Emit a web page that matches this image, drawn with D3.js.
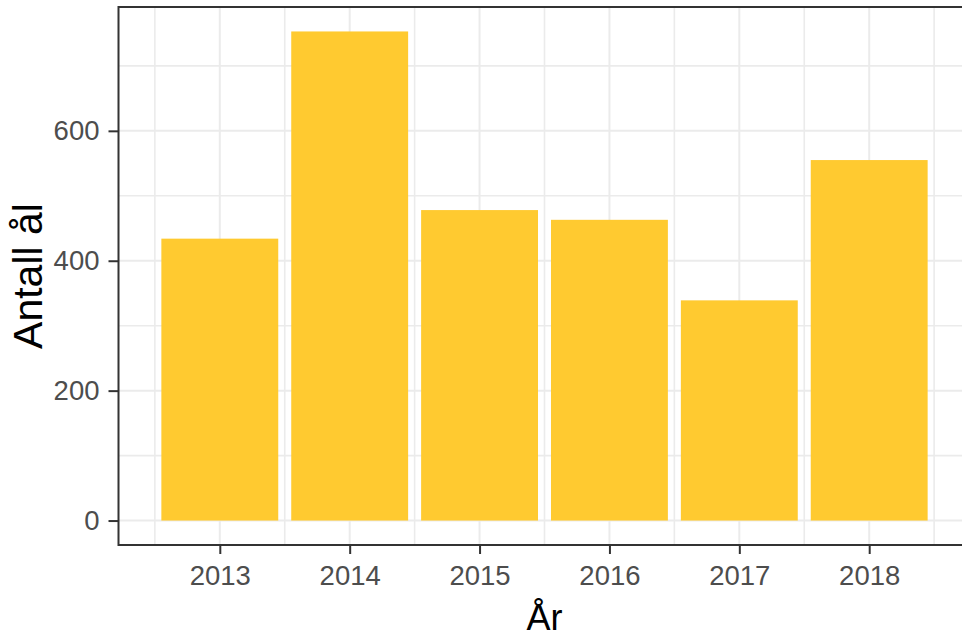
<!DOCTYPE html>
<html>
<head>
<meta charset="utf-8">
<script src="https://cdn.jsdelivr.net/npm/d3@7"></script>
<style>
  body { margin: 0; background: #ffffff; }
  svg text { font-family: "Liberation Sans", Arial, sans-serif; }
</style>
</head>
<body>
<div id="display"></div>
<script>
// ------- data -----------
var years = [2013, 2014, 2015, 2016, 2017, 2018];
var counts = [434, 753, 478, 463, 339, 555];
var y_ticks = [0, 200, 400, 600];
var y_minor = [100, 300, 500, 700];
var x_minor = [2012.5, 2013.5, 2014.5, 2015.5, 2016.5, 2017.5, 2018.5];

var W = 962, H = 639;
var panel = {left: 118.5, right: 970.5, top: 7, bottom: 545};

var svg = d3.select("#display").append("svg")
  .attr("width", W).attr("height", H);

// ------ scales --------
var ymax = d3.max(counts);
var y = d3.scaleLinear()
  .domain([-0.05 * ymax, 1.05 * ymax])
  .range([panel.bottom, panel.top]);

var x = d3.scaleLinear()
  .domain([2012.22, 2018.78])
  .range([panel.left, panel.right]);

var barw = 0.9;

// grid
var grid = svg.append("g");
grid.selectAll("line.ymin").data(y_minor).enter().append("line")
  .attr("x1", panel.left).attr("x2", panel.right)
  .attr("y1", function(d){ return y(d) }).attr("y2", function(d){ return y(d) })
  .attr("stroke", "#ebebeb").attr("stroke-width", 1.6);
grid.selectAll("line.xmin").data(x_minor).enter().append("line")
  .attr("y1", panel.top).attr("y2", panel.bottom)
  .attr("x1", function(d){ return x(d) }).attr("x2", function(d){ return x(d) })
  .attr("stroke", "#ebebeb").attr("stroke-width", 1.6);
grid.selectAll("line.ymaj").data(y_ticks).enter().append("line")
  .attr("x1", panel.left).attr("x2", panel.right)
  .attr("y1", function(d){ return y(d) }).attr("y2", function(d){ return y(d) })
  .attr("stroke", "#ebebeb").attr("stroke-width", 2);
grid.selectAll("line.xmaj").data(years).enter().append("line")
  .attr("y1", panel.top).attr("y2", panel.bottom)
  .attr("x1", function(d){ return x(d) }).attr("x2", function(d){ return x(d) })
  .attr("stroke", "#ebebeb").attr("stroke-width", 2);

// bars
svg.append("g").selectAll("rect").data(years).enter().append("rect")
  .attr("x", function(d){ return x(d - barw / 2) })
  .attr("width", function(d){ return x(d + barw / 2) - x(d - barw / 2) })
  .attr("y", function(d, i){ return y(counts[i]) })
  .attr("height", function(d, i){ return y(0) - y(counts[i]) })
  .attr("fill", "#ffca30");

// panel border
svg.append("rect")
  .attr("x", panel.left).attr("y", panel.top)
  .attr("width", panel.right - panel.left).attr("height", panel.bottom - panel.top)
  .attr("fill", "none").attr("stroke", "#333333").attr("stroke-width", 2);

// axes
var xAxis = d3.axisBottom(x).tickValues(years).tickFormat(d3.format("d"))
  .tickSize(9).tickPadding(11);
var gx = svg.append("g").attr("transform", "translate(0," + panel.bottom + ")").call(xAxis);

var yAxis = d3.axisLeft(y).tickValues(y_ticks).tickSize(10).tickPadding(9);
var gy = svg.append("g").attr("transform", "translate(" + panel.left + ",0)").call(yAxis);

[gx, gy].forEach(function(g){
  g.select(".domain").remove();
  g.selectAll(".tick line").attr("stroke", "#333333").attr("stroke-width", 2);
  g.selectAll(".tick text").attr("fill", "#4d4d4d")
    .style("font-size", "27.5px");
});

// titles
svg.append("text")
  .attr("x", (panel.left + panel.right) / 2).attr("y", 630)
  .attr("text-anchor", "middle").style("font-size", "36px").attr("fill", "#000")
  .text("År");

svg.append("text")
  .attr("transform", "translate(42," + ((panel.top + panel.bottom) / 2) + ") rotate(-90)")
  .attr("text-anchor", "middle").style("font-size", "41px").attr("fill", "#000")
  .text("Antall ål");
</script>
</body>
</html>
